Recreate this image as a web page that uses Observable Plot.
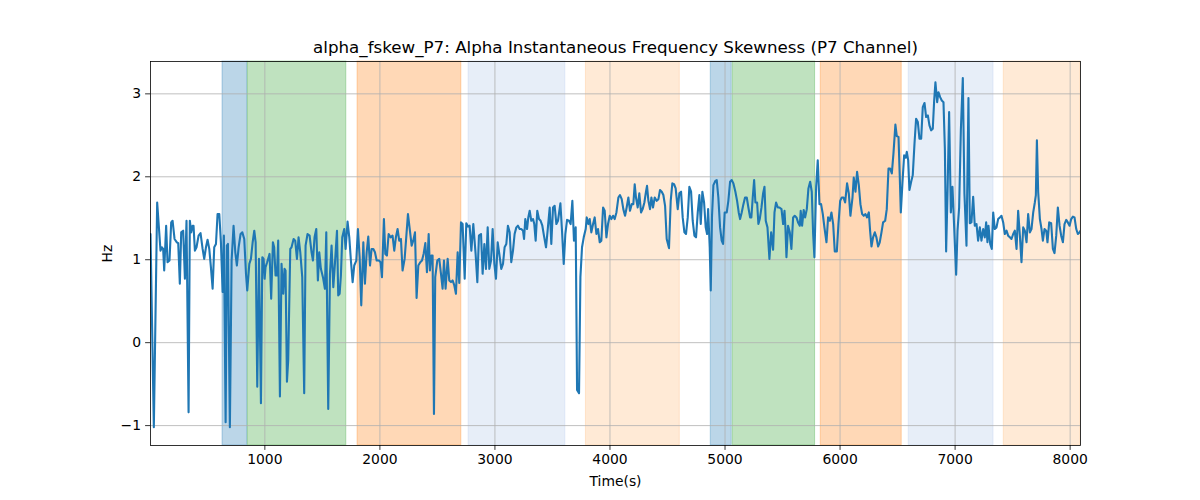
<!DOCTYPE html>
<html>
<head>
<meta charset="utf-8">
<script src="https://cdn.jsdelivr.net/npm/d3@7"></script>
<script src="https://cdn.jsdelivr.net/npm/@observablehq/plot@0.6"></script>
<style>
  html, body { margin: 0; padding: 0; background: white; }
  #chart { width: 1200px; height: 500px; }
</style>
</head>
<body>
<div id="chart"></div>
<script>
const titleText = "alpha_fskew_P7: Alpha Instantaneous Frequency Skewness (P7 Channel)";
const xLabel = "Time(s)";
const yLabel = "Hz";
const xTicks = [1000, 2000, 3000, 4000, 5000, 6000, 7000, 8000];
const yTicks = [-1, 0, 1, 2, 3];
const xDomain = [6, 8090];
const yDomain = [-1.24, 3.39];

const bandStart = [632, 852, 1806, 2771, 3791, 4876, 5067, 5832, 6597, 7423];
const bandEnd   = [847, 1708, 2708, 3612, 4607, 5058, 5783, 6536, 7334, 8090];
const bandColor = ["#1f77b4", "#2ca02c", "#ff7f0e", "#aec7e8", "#ffbb78",
                   "#1f77b4", "#2ca02c", "#ff7f0e", "#aec7e8", "#ffbb78"];

const time = [
6,35,64,93,105,116,125,142,154,171,186,198,215,235,247,261,273,290,305,319,337,348,360,372,380,392,406,424,441,459,473,488,502,517,531,546,560,575,589,604,618,633,644,659,670,679,696,711,728,743,757,772,789,804,821,836,847,865,879,894,908,920,934,949,966,978,989,998,
1006,1020,1041,1055,1070,1081,1093,1105,1116,1131,1145,1160,1171,1180,1192,1203,1221,1232,1250,1264,1279,1293,1308,1325,1342,1354,1371,1389,1406,1418,1432,1447,1461,1473,1487,1505,1522,1534,1551,1566,1580,1595,1609,1627,1638,1650,1661,1673,1690,1702,1719,1734,1748,1763,1777,1795,1809,1824,1838,1856,1870,1885,1899,1914,1928,1943,1957,1972,1992,2006,2018,
2035,2047,2061,2076,2093,2110,2125,2139,2154,2168,2183,2197,2215,2229,2244,2261,2276,2290,2305,2319,2334,2351,2366,2380,2395,2409,2424,2435,2447,2458,2470,2481,2499,2516,2531,2545,2557,2571,2589,2603,2618,2632,2647,2661,2676,2690,2705,2719,2737,2751,2766,2780,2795,2812,2832,2847,2861,2879,2893,2908,2922,2937,2951,2966,2980,2995,3009,3024,3038,
3055,3070,3084,3099,3113,3128,3142,3157,3171,3186,3200,3215,3229,3244,3253,3264,3279,3290,3302,3316,3331,3342,3354,3368,3383,3397,3412,3426,3444,3458,3476,3490,3505,3519,3534,3548,3569,3583,3598,3612,3627,3644,3658,3673,3687,3702,3714,3731,3743,3757,3772,3789,3798,3812,3824,3838,3853,3867,3882,3896,3911,3925,3940,3954,3969,3983,3998,4012,4027,4041,4056,
4073,4087,4102,4116,4131,4145,4160,4174,4189,4203,4215,4226,4241,4255,4270,4284,4299,4313,4322,4334,4348,4360,4374,4389,4406,4421,4435,4450,4464,4479,4493,4513,4528,4542,4557,4571,4589,4603,4618,4632,4647,4661,4676,4690,4705,4719,4734,4748,4763,4777,4789,4803,4818,4832,4844,4853,4867,4876,4887,4899,4916,4928,4942,4957,4971,4983,4997,5015,5029,5044,5058,5073,
5090,5105,5119,5131,5145,5160,5174,5189,5203,5218,5229,5241,5253,5264,5279,5290,5302,5317,5331,5343,5354,5369,5386,5401,5418,5430,5444,5459,5473,5491,5505,5517,5525,5534,5548,5563,5577,5592,5606,5621,5635,5650,5658,5670,5684,5696,5711,5725,5740,5754,5766,5777,5792,5806,5821,5835,5850,5864,5882,5896,5911,5925,5940,5954,5972,5986,6001,6015,6030,6044,6061,6076,6090,
6108,6119,6134,6148,6163,6177,6192,6206,6221,6235,6250,6261,6273,6287,6302,6316,6331,6345,6360,6374,6392,6406,6421,6435,6450,6464,6481,6493,6508,6519,6528,6542,6557,6571,6580,6592,6603,6618,6632,6647,6661,6676,6690,6705,6719,6734,6748,6763,6777,6792,6806,6818,6829,6844,6855,6870,6884,6899,6911,6922,6934,6948,6963,6977,6992,7009,7021,7035,7050,7067,7081,7099,
7116,7128,7142,7157,7171,7186,7200,7215,7229,7244,7258,7270,7281,7290,7305,7319,7331,7345,7360,7374,7389,7403,7418,7432,7447,7461,7476,7490,7505,7519,7534,7548,7563,7577,7592,7606,7621,7635,7650,7664,7679,7693,7702,7711,7722,7737,7751,7763,7777,7792,7803,7818,7835,7850,7864,7879,7893,7908,7922,7937,7951,7966,7980,7995,8009,8024,8038,8053,8067,8082,8090
];

const skew = [
1.31,-1.02,1.69,1.11,1.15,1.13,0.87,1.41,0.97,0.99,1.45,1.47,1.25,1.21,1.20,0.71,1.33,1.35,0.77,1.47,-0.84,1.47,1.33,1.41,1.41,1.11,1.15,1.29,1.32,1.13,1.01,1.15,1.24,1.13,0.91,0.65,1.15,1.19,1.55,1.55,1.21,0.61,1.29,-0.96,1.17,1.19,-1.02,0.99,1.41,1.09,0.93,1.15,1.31,1.33,1.25,0.83,0.63,0.95,1.01,1.21,1.35,1.21,-0.53,1.01,-0.73,1.03,1.01,0.77,
0.91,0.97,1.07,0.53,1.21,1.15,0.81,0.81,1.23,-0.65,0.95,0.59,0.89,0.87,-0.47,-0.21,1.13,1.15,1.25,1.23,1.01,1.27,1.09,0.79,-0.61,1.17,1.31,1.29,1.09,0.99,1.27,1.37,0.75,1.09,0.89,0.79,0.65,1.33,-0.80,0.83,1.17,0.67,0.95,1.35,0.57,0.59,0.81,1.27,1.37,1.13,1.46,1.27,0.99,0.73,0.93,0.99,1.37,1.03,0.45,1.21,0.71,1.09,1.28,0.93,1.13,1.13,1.09,0.99,0.99,0.97,0.79,
1.49,1.07,1.05,1.31,1.27,1.29,1.11,1.27,1.37,1.23,1.25,0.87,1.01,1.27,1.55,1.35,1.17,1.23,1.33,0.54,0.93,0.97,0.99,1.07,1.20,0.85,1.31,0.87,1.05,1.05,-0.86,0.79,0.99,1.01,0.83,0.65,0.99,0.65,1.01,0.75,0.73,0.75,0.69,0.59,1.09,0.72,1.45,1.43,0.77,1.44,1.40,1.41,1.11,1.43,1.07,0.73,1.29,1.31,0.83,1.19,0.89,1.39,0.89,0.99,1.37,0.95,0.77,1.21,1.07,
0.89,0.95,1.15,1.19,1.41,1.33,0.97,1.11,1.31,1.39,1.41,1.37,1.37,1.35,1.25,1.49,1.37,1.51,1.59,1.47,1.49,1.43,1.23,1.59,1.49,1.47,1.41,1.29,1.15,1.35,1.63,1.19,1.63,1.65,1.43,1.47,1.68,1.35,0.95,1.31,1.48,1.47,1.43,1.71,1.23,1.39,-0.57,-0.61,0.79,1.15,1.27,1.37,1.51,1.43,1.49,1.33,1.43,1.51,1.31,1.37,1.21,1.23,1.63,1.59,1.27,1.43,1.53,1.49,1.53,1.49,1.57,
1.75,1.78,1.73,1.61,1.53,1.63,1.75,1.59,1.67,1.67,1.91,1.75,1.63,1.80,1.57,1.61,1.69,1.82,1.89,1.71,1.61,1.75,1.63,1.75,1.71,1.73,1.84,1.82,1.78,1.65,1.25,1.14,1.71,1.92,1.91,1.86,1.61,1.80,1.82,1.51,1.33,1.31,1.51,1.88,1.82,1.47,1.29,1.27,1.57,1.78,1.43,1.82,1.69,1.39,1.31,1.61,1.15,0.63,1.53,1.90,1.95,1.96,1.75,1.39,1.23,1.19,1.57,1.57,1.71,1.94,1.96,1.92,
1.82,1.71,1.57,1.49,1.57,1.67,1.75,1.75,1.63,1.51,1.51,1.75,1.96,1.69,1.69,1.43,1.49,1.63,1.80,1.88,1.47,1.39,1.01,1.33,1.12,1.57,1.69,1.63,1.63,1.61,1.43,1.59,1.39,1.03,1.41,1.33,1.13,1.51,1.53,1.51,1.45,1.41,1.59,1.41,1.60,1.51,1.61,1.86,1.94,1.82,1.31,1.03,1.88,2.20,1.67,1.67,1.55,1.39,1.21,1.51,1.47,1.57,1.43,1.10,1.10,1.43,1.71,1.75,1.75,1.69,1.92,1.80,1.53,
1.75,1.99,1.82,2.06,1.90,1.67,1.55,1.53,1.55,1.51,1.57,1.35,1.16,1.27,1.33,1.27,1.16,1.21,1.33,1.45,1.47,1.61,2.10,2.10,2.04,2.28,2.63,2.49,2.48,2.00,1.57,1.92,2.26,2.23,2.30,2.20,1.84,1.94,2.02,2.40,2.70,2.66,2.46,2.46,2.84,2.89,2.72,2.74,2.62,2.56,2.58,2.92,3.14,2.90,3.02,2.96,2.92,2.90,2.34,1.10,1.80,2.78,1.57,1.88,1.39,0.82,1.35,1.63,2.56,3.19,1.80,1.17,
2.95,1.44,1.45,1.76,1.41,1.43,1.23,1.39,1.23,1.37,1.27,1.45,1.21,1.41,1.19,1.13,1.57,1.37,1.39,1.49,1.51,1.53,1.45,1.31,1.35,1.29,1.27,1.25,1.31,1.35,1.13,1.59,1.29,0.97,1.39,1.35,1.21,1.55,1.33,1.37,1.57,1.69,1.78,2.44,1.82,1.49,1.37,1.23,1.37,1.35,1.21,1.45,1.44,1.13,1.08,1.29,1.63,1.41,1.29,1.21,1.43,1.48,1.45,1.41,1.49,1.52,1.51,1.37,1.31,1.33,1.35
];

const series = time.map((t, i) => ({t, v: skew[i]}));
const bands = bandStart.map((s, i) => ({x1: s, x2: bandEnd[i], c: bandColor[i]}));

const chart = Plot.plot({
  width: 1200,
  height: 500,
  marginLeft: 150,
  marginRight: 120,
  marginTop: 61,
  marginBottom: 55,
  x: {domain: xDomain},
  y: {domain: yDomain},
  color: {type: "identity"},
  style: {fontFamily: "DejaVu Sans", fontSize: "13.9px", color: "black", background: "white", overflow: "visible"},
  marks: [
    Plot.rect(bands, {x1: "x1", x2: "x2", fill: "c", fillOpacity: 0.3, stroke: "c", strokeOpacity: 0.3, strokeWidth: 1}),
    Plot.gridX(xTicks, {stroke: "#b0b0b0", strokeOpacity: 1, strokeWidth: 0.8}),
    Plot.gridY(yTicks, {stroke: "#b0b0b0", strokeOpacity: 1, strokeWidth: 0.8}),
    Plot.line(series, {x: "t", y: "v", stroke: "#1f77b4", strokeWidth: 2.1, clip: true}),
    Plot.frame({stroke: "black", strokeWidth: 0.8}),
    Plot.axisX(xTicks, {tickSize: 4.9, tickPadding: 4, label: null, strokeWidth: 0.8, tickFormat: d => String(d)}),
    Plot.axisY(yTicks, {tickSize: 4.9, tickPadding: 4.5, label: null, strokeWidth: 0.8, tickFormat: d => d < 0 ? "\u2212" + Math.abs(d) : String(d)}),
    Plot.text([titleText], {frameAnchor: "top", dy: -9, lineAnchor: "bottom", fontSize: 16.7}),
    Plot.text([xLabel], {frameAnchor: "bottom", dy: 36, lineAnchor: "middle", fontSize: 13.9}),
    Plot.text([yLabel], {frameAnchor: "left", dx: -43, rotate: -90, textAnchor: "middle", lineAnchor: "middle", fontSize: 13.9})
  ]
});
document.getElementById("chart").appendChild(chart);
</script>
</body>
</html>
